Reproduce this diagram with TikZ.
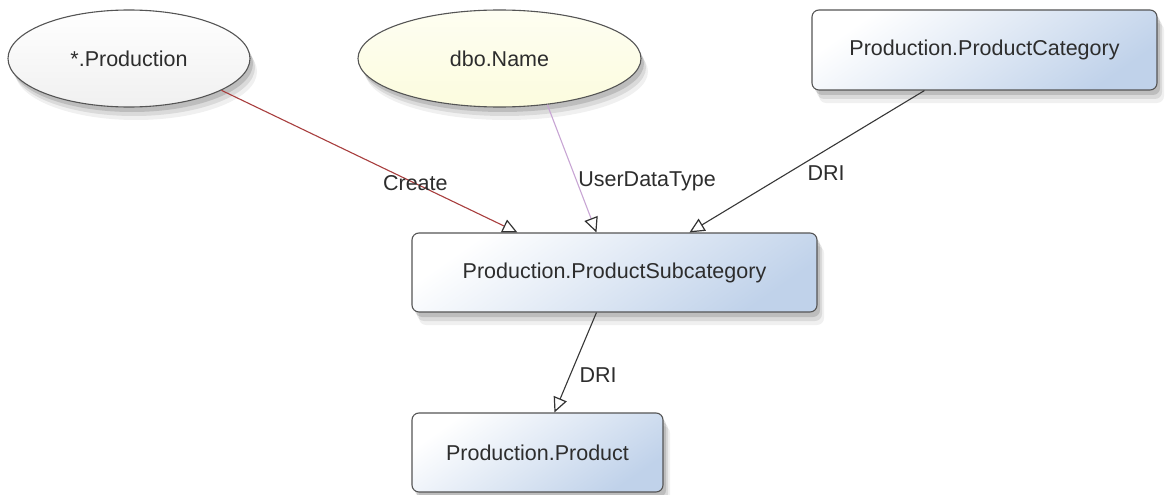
\documentclass[tikz,border=0pt]{standalone}
\usepackage{fontspec}
\setmainfont{Liberation Sans}
\usetikzlibrary{shapes.geometric,shadows,arrows.meta,calc}
\definecolor{boxblue}{RGB}{192,210,234}
\definecolor{ellgray}{RGB}{240,240,240}
\definecolor{ellyellow}{RGB}{252,252,222}
\definecolor{bordergray}{RGB}{85,85,85}
\definecolor{textgray}{RGB}{45,45,45}
\definecolor{createred}{RGB}{168,62,62}
\definecolor{udtlilac}{RGB}{200,165,212}
\definecolor{drigray}{RGB}{55,55,55}
\begin{document}
\begin{tikzpicture}[x=1pt,y=-1pt,
  txt/.style={font=\fontsize{21.5pt}{26pt}\selectfont, text=textgray},
  softshadow/.style={
    drop shadow={shadow xshift=3pt,shadow yshift=-5pt,opacity=0.13,fill=black},
    drop shadow={shadow xshift=5pt,shadow yshift=-9pt,opacity=0.09,fill=black},
    drop shadow={shadow xshift=7pt,shadow yshift=-13pt,opacity=0.06,fill=black}},
  ell/.style={ellipse, txt, draw=bordergray, line width=1.1pt, inner sep=0pt,
    softshadow},
  box/.style={rectangle, rounded corners=7pt, txt, draw=bordergray, line width=1.1pt,
    inner sep=0pt, softshadow, top color=white, bottom color=boxblue, shading angle=35},
  lbl/.style={txt, inner sep=1pt},
  tip/.style={-{Triangle[length=15pt,width=14pt,fill=white,color=black!80,line width=1.2pt]}},
  edge/.style={line width=1.1pt, tip},
]
\path[use as bounding box, fill=white] (0,0) rectangle (1168,495);

\node[ell, top color=white, bottom color=ellgray, minimum width=242pt, minimum height=97pt]
  (prodschema) at (129,58.5) {*.Production};
\node[ell, top color=ellyellow!40!white, bottom color=ellyellow, minimum width=283pt, minimum height=97pt]
  (dbo) at (499.5,58.5) {dbo.Name};
\node[box, minimum width=345pt, minimum height=80pt] (cat) at (984.5,50) {Production.ProductCategory};
\node[box, minimum width=405pt, minimum height=79pt] (sub) at (614.5,272.5) {Production.ProductSubcategory};
\node[box, minimum width=251pt, minimum height=79pt] (product) at (537.5,452.5) {Production.Product};

\draw[edge, draw=createred] (prodschema.-19) -- node[lbl, pos=0.655] {Create}
  ($(sub.north west)+(106,0)$);
\draw[edge, draw=udtlilac] (dbo.-44) -- node[lbl, pos=0.6, anchor=west] {UserDataType}
  ($(sub.north west)+(185,0)$);
\draw[edge, draw=drigray] ($(cat.south west)+(113,0)$) -- node[lbl, pos=0.585, anchor=west, xshift=19pt] {DRI}
  ($(sub.north west)+(278,0)$);
\draw[edge, draw=drigray] ($(sub.south west)+(185,0)$) -- node[lbl, pos=0.63, anchor=west, xshift=8pt] {DRI}
  ($(product.north west)+(143,0)$);
\end{tikzpicture}
\end{document}
